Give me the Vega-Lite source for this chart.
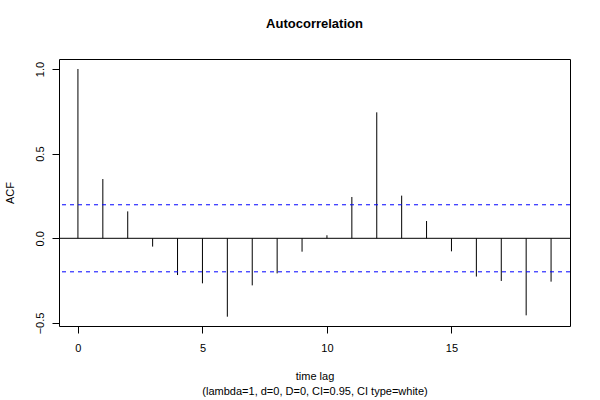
{
  "$schema": "https://vega.github.io/schema/vega-lite/v6.json",
  "width": 511,
  "height": 267,
  "autosize": {"type": "none"},
  "padding": {"left": 59, "top": 59, "right": 30, "bottom": 74},
  "background": "white",
  "config": {
    "font": "Liberation Sans",
    "view": {"stroke": "#000", "strokeWidth": 1},
    "axis": {
      "grid": false,
      "domain": false,
      "tickColor": "#000",
      "tickSize": 7,
      "labelColor": "#000",
      "labelFontSize": 11,
      "labelFont": "Liberation Sans",
      "titleFont": "Liberation Sans",
      "titleFontWeight": "normal",
      "titleFontSize": 11,
      "titleColor": "#000"
    }
  },
  "title": {
    "text": "Autocorrelation",
    "fontSize": 13,
    "fontWeight": "bold",
    "font": "Liberation Sans",
    "color": "#000",
    "anchor": "middle",
    "offset": 28
  },
  "datasets": {
    "acf": [
      {"lag": 0, "acf": 1.0},
      {"lag": 1, "acf": 0.35},
      {"lag": 2, "acf": 0.159},
      {"lag": 3, "acf": -0.049},
      {"lag": 4, "acf": -0.217},
      {"lag": 5, "acf": -0.266},
      {"lag": 6, "acf": -0.463},
      {"lag": 7, "acf": -0.278},
      {"lag": 8, "acf": -0.207},
      {"lag": 9, "acf": -0.079},
      {"lag": 10, "acf": 0.018},
      {"lag": 11, "acf": 0.244},
      {"lag": 12, "acf": 0.744},
      {"lag": 13, "acf": 0.252},
      {"lag": 14, "acf": 0.102},
      {"lag": 15, "acf": -0.077},
      {"lag": 16, "acf": -0.226},
      {"lag": 17, "acf": -0.252},
      {"lag": 18, "acf": -0.455},
      {"lag": 19, "acf": -0.256}
    ],
    "ci": [{"ci": 0.198}, {"ci": -0.198}]
  },
  "layer": [
    {
      "data": {"name": "acf"},
      "mark": {"type": "rule", "color": "#000", "strokeWidth": 1},
      "encoding": {
        "x": {
          "field": "lag",
          "type": "quantitative",
          "scale": {"domain": [-0.76, 19.76], "nice": false, "zero": false},
          "axis": {
            "values": [0, 5, 10, 15],
            "labelPadding": 9,
            "title": ["time lag", "(lambda=1, d=0, D=0, CI=0.95, CI type=white)"],
            "titlePadding": 17,
            "titleLineHeight": 15
          }
        },
        "y": {
          "field": "acf",
          "type": "quantitative",
          "scale": {"domain": [-0.518, 1.059], "nice": false, "zero": false},
          "axis": {
            "values": [-0.5, 0, 0.5, 1.0],
            "format": ".1f",
            "labelAngle": -90,
            "labelAlign": "center",
            "labelBaseline": "bottom",
            "labelPadding": 7,
            "title": "ACF",
            "titlePadding": 19
          }
        },
        "y2": {"datum": 0}
      }
    },
    {
      "data": {"values": [{"h": 0}]},
      "mark": {"type": "rule", "color": "#000", "strokeWidth": 1},
      "encoding": {"y": {"field": "h", "type": "quantitative"}}
    },
    {
      "data": {"name": "ci"},
      "mark": {"type": "rule", "color": "#0000FF", "strokeWidth": 1, "strokeDash": [4, 4]},
      "encoding": {"y": {"field": "ci", "type": "quantitative"}}
    }
  ]
}
